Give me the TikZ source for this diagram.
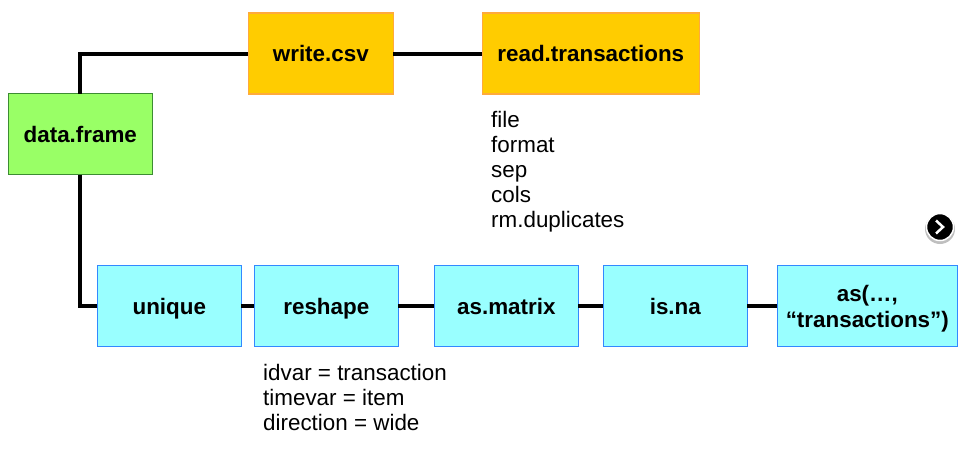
\documentclass[tikz,border=0pt]{standalone}
\usepackage{fontspec}
\setmainfont{Liberation Sans}
\usepackage{color}
\definecolor{framegreen}{RGB}{153,255,102}
\definecolor{framegreenline}{RGB}{60,140,50}
\definecolor{csvorange}{RGB}{255,204,0}
\definecolor{csvorangeline}{RGB}{255,170,60}
\definecolor{stepcyan}{RGB}{153,255,255}
\definecolor{stepcyanline}{RGB}{51,136,255}
\tikzset{
  every node/.style={font=\fontsize{22.4}{25}\selectfont},
  boxnode/.style={draw,line width=1.2pt,inner sep=0pt,outer sep=0pt,minimum height=81pt,align=center,font=\fontsize{22.4}{25}\selectfont\bfseries},
  oneline/.style={text height=16pt,text depth=0pt},
  framebox/.style={boxnode,oneline,fill=framegreen,draw=framegreenline,minimum width=144pt},
  csvbox/.style={boxnode,oneline,fill=csvorange,draw=csvorangeline},
  stepbox/.style={boxnode,fill=stepcyan,draw=stepcyanline},
  argtext/.style={anchor=north west,inner sep=0pt,align=left},
  link/.style={line width=4pt}
}
\begin{document}
\begin{tikzpicture}[x=1pt,y=-1pt]
\useasboundingbox (0,0) rectangle (971,458);
\node [framebox] (dataframe) at (80.3,134) {data.frame};
\node [csvbox,minimum width=145pt] (writecsv) at (320.8,53.5) {write.csv};
\node [csvbox,minimum width=217pt] (readtrans) at (590.8,53.5) {read.transactions};
\node [stepbox,oneline,minimum width=144pt] (unique) at (169.3,306) {unique};
\node [stepbox,oneline,minimum width=144pt] (reshape) at (326.3,306) {reshape};
\node [stepbox,oneline,minimum width=144pt] (asmatrix) at (506.3,306) {as.matrix};
\node [stepbox,oneline,minimum width=144pt] (isna) at (675.3,306) {is.na};
\node [stepbox,minimum width=180pt] (astrans) at (867.3,306) {\rule{0pt}{21pt}as(…,\\[1pt]“transactions”)};
\node [argtext] (readargs) at (491,111)
{
file\\format\\sep\\cols\\rm.duplicates
};
\node [argtext] (reshapeargs) at (263,364)
{
idvar = transaction\\timevar = item\\direction = wide
};
\draw [link] (dataframe.north) |- (writecsv.west);
\draw [link] (writecsv) -- (readtrans);
\draw [link] (dataframe.south) |- (unique.west);
\draw [link] (unique) -- (reshape);
\draw [link] (reshape) -- (asmatrix);
\draw [link] (asmatrix) -- (isna);
\draw [link] (isna) -- (astrans);
\fill [black!25] (940,229) circle (15pt);
\node [circle,fill=black,draw=white,line width=1.5pt,minimum size=27pt,inner sep=0pt] (nextbutton) at (940,227) {};
\draw [white,line width=2.5pt] (936,220.5) -- (943,227) -- (936,233.5);
\end{tikzpicture}
\end{document}
